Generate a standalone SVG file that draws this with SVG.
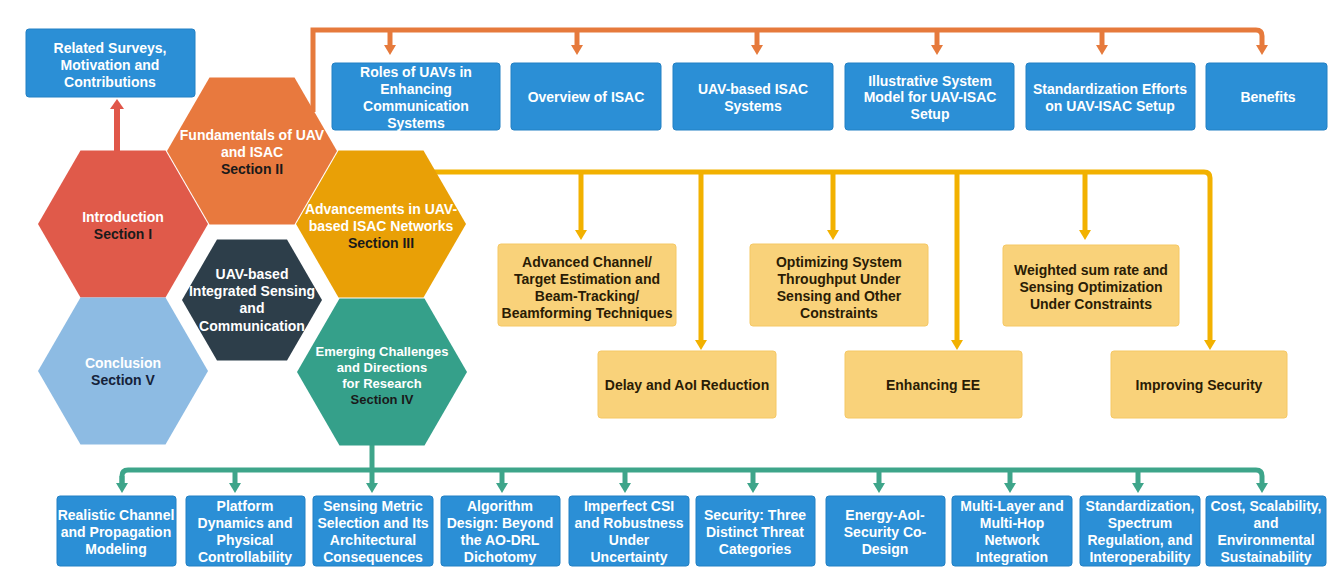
<svg xmlns="http://www.w3.org/2000/svg" width="1330" height="580" viewBox="0 0 1330 580">
<defs>
<style>
text{font-family:"Liberation Sans",Arial,sans-serif;font-weight:bold;font-size:14px;text-anchor:middle}
.wt{fill:#ffffff}
.dk{fill:#1a1a1a}
.yt{fill:#2a1c05}
.blue{fill:#2b8fd6;stroke:#2380c4;stroke-width:1}
.ybox{fill:#f9d27a;stroke:#f5c865;stroke-width:1}
.or{fill:none;stroke:#e67a3c;stroke-width:5}
.rd{fill:none;stroke:#e0574a;stroke-width:6}
.ye{fill:none;stroke:#f2b100;stroke-width:5}
.gr{fill:none;stroke:#3ea58a;stroke-width:5}
</style>
<marker id="aor" viewBox="0 0 10 12" markerWidth="10" markerHeight="12" refX="4" refY="6" orient="auto" markerUnits="userSpaceOnUse"><path d="M0,0 L10,6 L0,12 z" fill="#e67a3c"/></marker>
<marker id="ard" viewBox="0 0 10 14" markerWidth="10" markerHeight="14" refX="4" refY="7" orient="auto" markerUnits="userSpaceOnUse"><path d="M0,0 L10,7 L0,14 z" fill="#e0574a"/></marker>
<marker id="aye" viewBox="0 0 10 12" markerWidth="10" markerHeight="12" refX="4" refY="6" orient="auto" markerUnits="userSpaceOnUse"><path d="M0,0 L10,6 L0,12 z" fill="#f2b100"/></marker>
<marker id="agr" viewBox="0 0 10 12" markerWidth="10" markerHeight="12" refX="4" refY="6" orient="auto" markerUnits="userSpaceOnUse"><path d="M0,0 L10,6 L0,12 z" fill="#3ea58a"/></marker>
</defs>
<rect width="1330" height="580" fill="#ffffff"/>

<g id="connectors">
<path class="rd" d="M117,152 V105" marker-end="url(#ard)"/>
<path class="or" d="M313,112 V30 H1256 Q1262,30 1262,36 V49" marker-end="url(#aor)"/>
<path class="or" d="M390,30 V49" marker-end="url(#aor)"/>
<path class="or" d="M577,30 V49" marker-end="url(#aor)"/>
<path class="or" d="M757,30 V49" marker-end="url(#aor)"/>
<path class="or" d="M937,30 V49" marker-end="url(#aor)"/>
<path class="or" d="M1102,30 V49" marker-end="url(#aor)"/>
<path class="ye" d="M420,172 H1204 Q1210,172 1210,178 V344" marker-end="url(#aye)"/>
<path class="ye" d="M581,172 V234" marker-end="url(#aye)"/>
<path class="ye" d="M701,172 V344" marker-end="url(#aye)"/>
<path class="ye" d="M833,172 V234" marker-end="url(#aye)"/>
<path class="ye" d="M957,172 V344" marker-end="url(#aye)"/>
<path class="ye" d="M1085,172 V234" marker-end="url(#aye)"/>
<path class="gr" d="M122,487 V476 Q122,470 128,470 H1256 Q1262,470 1262,476 V487" marker-end="url(#agr)"/>
<path class="gr" d="M122,476 V487" marker-end="url(#agr)"/>
<path class="gr" d="M372,440 V487" marker-end="url(#agr)"/>
<path class="gr" d="M235,470 V487" marker-end="url(#agr)"/>
<path class="gr" d="M502,470 V487" marker-end="url(#agr)"/>
<path class="gr" d="M625,470 V487" marker-end="url(#agr)"/>
<path class="gr" d="M753,470 V487" marker-end="url(#agr)"/>
<path class="gr" d="M879,470 V487" marker-end="url(#agr)"/>
<path class="gr" d="M1010,470 V487" marker-end="url(#agr)"/>
<path class="gr" d="M1138,470 V487" marker-end="url(#agr)"/>
</g>

<g id="hex-introduction">
<polygon points="38,224 80.5,150.4 165.5,150.4 208,224 165.5,297.6 80.5,297.6" fill="#e05a4a"/>
<text class="wt" x="123" y="222">Introduction</text>
<text class="dk" x="123" y="239">Section I</text>
</g>
<g id="hex-fundamentals">
<polygon points="167,151 209.5,77.4 294.5,77.4 337,151 294.5,224.6 209.5,224.6" fill="#e8793e"/>
<text class="wt" x="252" y="140">Fundamentals of UAV</text>
<text class="wt" x="252" y="157">and ISAC</text>
<text class="dk" x="252" y="174">Section II</text>
</g>
<g id="hex-advancements">
<polygon points="296,224 338.5,150.4 423.5,150.4 466,224 423.5,297.6 338.5,297.6" fill="#e9a006"/>
<text class="wt" x="381" y="214">Advancements in UAV-</text>
<text class="wt" x="381" y="231">based ISAC Networks</text>
<text class="dk" x="381" y="248">Section III</text>
</g>
<g id="hex-conclusion">
<polygon points="38,371 80.5,297.4 165.5,297.4 208,371 165.5,444.6 80.5,444.6" fill="#8dbbe3"/>
<text class="wt" x="123" y="368">Conclusion</text>
<text fill="#15223a" x="123" y="385">Section V</text>
</g>
<g id="hex-emerging">
<polygon points="297,372 339.5,298.4 424.5,298.4 467,372 424.5,445.6 339.5,445.6" fill="#35a08a"/>
<text class="wt" x="382" y="356" style="font-size:13px">Emerging Challenges</text>
<text class="wt" x="382" y="372" style="font-size:13px">and Directions</text>
<text class="wt" x="382" y="388" style="font-size:13px">for Research</text>
<text class="dk" x="382" y="404" style="font-size:13px">Section IV</text>
</g>
<g id="hex-center">
<polygon points="182,300 217,239.4 287,239.4 322,300 287,360.6 217,360.6" fill="#2d3e4a"/>
<text class="wt" x="252" y="279">UAV-based</text>
<text class="wt" x="252" y="296">Integrated Sensing</text>
<text class="wt" x="252" y="313">and</text>
<text class="wt" x="252" y="331">Communication</text>
</g>

<g id="box-related">
<rect class="blue" x="26" y="29" width="169" height="68" rx="3"/>
<text class="wt" x="110" y="53">Related Surveys,</text>
<text class="wt" x="110" y="70">Motivation and</text>
<text class="wt" x="110" y="87">Contributions</text>
</g>

<g id="box-roles">
<rect class="blue" x="332" y="63" width="168" height="67" rx="3"/>
<text class="wt" x="416" y="77">Roles of UAVs in</text>
<text class="wt" x="416" y="94">Enhancing</text>
<text class="wt" x="416" y="111">Communication</text>
<text class="wt" x="416" y="128">Systems</text>
</g>
<g id="box-overview">
<rect class="blue" x="511" y="63" width="150" height="67" rx="3"/>
<text class="wt" x="586" y="102">Overview of ISAC</text>
</g>
<g id="box-uavisac">
<rect class="blue" x="673" y="63" width="160" height="67" rx="3"/>
<text class="wt" x="753" y="94">UAV-based ISAC</text>
<text class="wt" x="753" y="111">Systems</text>
</g>
<g id="box-illustrative">
<rect class="blue" x="845" y="63" width="169" height="67" rx="3"/>
<text class="wt" x="930" y="86">Illustrative System</text>
<text class="wt" x="930" y="102">Model for UAV-ISAC</text>
<text class="wt" x="930" y="119">Setup</text>
</g>
<g id="box-standardization">
<rect class="blue" x="1026" y="63" width="169" height="67" rx="3"/>
<text class="wt" x="1110" y="94">Standardization Efforts</text>
<text class="wt" x="1110" y="111">on UAV-ISAC Setup</text>
</g>
<g id="box-benefits">
<rect class="blue" x="1206" y="63" width="121" height="67" rx="3"/>
<text class="wt" x="1268" y="102">Benefits</text>
</g>

<g id="box-advanced">
<rect class="ybox" x="498" y="244" width="178" height="82" rx="3"/>
<text class="yt" x="587" y="267">Advanced Channel/</text>
<text class="yt" x="587" y="284">Target Estimation and</text>
<text class="yt" x="587" y="301">Beam-Tracking/</text>
<text class="yt" x="587" y="318">Beamforming Techniques</text>
</g>
<g id="box-optimizing">
<rect class="ybox" x="750" y="244" width="178" height="82" rx="3"/>
<text class="yt" x="839" y="267">Optimizing System</text>
<text class="yt" x="839" y="284">Throughput Under</text>
<text class="yt" x="839" y="301">Sensing and Other</text>
<text class="yt" x="839" y="318">Constraints</text>
</g>
<g id="box-weighted">
<rect class="ybox" x="1003" y="245" width="176" height="81" rx="3"/>
<text class="yt" x="1091" y="275">Weighted sum rate and</text>
<text class="yt" x="1091" y="292">Sensing Optimization</text>
<text class="yt" x="1091" y="309">Under Constraints</text>
</g>
<g id="box-delay">
<rect class="ybox" x="598" y="351" width="178" height="67" rx="3"/>
<text class="yt" x="687" y="390">Delay and AoI Reduction</text>
</g>
<g id="box-ee">
<rect class="ybox" x="845" y="351" width="177" height="67" rx="3"/>
<text class="yt" x="933" y="390">Enhancing EE</text>
</g>
<g id="box-security">
<rect class="ybox" x="1111" y="351" width="176" height="67" rx="3"/>
<text class="yt" x="1199" y="390">Improving Security</text>
</g>

<g id="box-b1">
<rect class="blue" x="57" y="496" width="119" height="70" rx="3"/>
<text class="wt" x="116" y="520">Realistic Channel</text>
<text class="wt" x="116" y="537">and Propagation</text>
<text class="wt" x="116" y="554">Modeling</text>
</g>
<g id="box-b2">
<rect class="blue" x="186" y="496" width="119" height="70" rx="3"/>
<text class="wt" x="245" y="511">Platform</text>
<text class="wt" x="245" y="528">Dynamics and</text>
<text class="wt" x="245" y="545">Physical</text>
<text class="wt" x="245" y="562">Controllability</text>
</g>
<g id="box-b3">
<rect class="blue" x="313" y="496" width="120" height="70" rx="3"/>
<text class="wt" x="373" y="511">Sensing Metric</text>
<text class="wt" x="373" y="528">Selection and Its</text>
<text class="wt" x="373" y="545">Architectural</text>
<text class="wt" x="373" y="562">Consequences</text>
</g>
<g id="box-b4">
<rect class="blue" x="441" y="496" width="119" height="70" rx="3"/>
<text class="wt" x="500" y="511">Algorithm</text>
<text class="wt" x="500" y="528">Design: Beyond</text>
<text class="wt" x="500" y="545">the AO-DRL</text>
<text class="wt" x="500" y="562">Dichotomy</text>
</g>
<g id="box-b5">
<rect class="blue" x="569" y="496" width="120" height="70" rx="3"/>
<text class="wt" x="629" y="511">Imperfect CSI</text>
<text class="wt" x="629" y="528">and Robustness</text>
<text class="wt" x="629" y="545">Under</text>
<text class="wt" x="629" y="562">Uncertainty</text>
</g>
<g id="box-b6">
<rect class="blue" x="696" y="496" width="119" height="70" rx="3"/>
<text class="wt" x="755" y="520">Security: Three</text>
<text class="wt" x="755" y="537">Distinct Threat</text>
<text class="wt" x="755" y="554">Categories</text>
</g>
<g id="box-b7">
<rect class="blue" x="826" y="496" width="119" height="70" rx="3"/>
<text class="wt" x="885" y="520">Energy-AoI-</text>
<text class="wt" x="885" y="537">Security Co-</text>
<text class="wt" x="885" y="554">Design</text>
</g>
<g id="box-b8">
<rect class="blue" x="952" y="496" width="120" height="70" rx="3"/>
<text class="wt" x="1012" y="511">Multi-Layer and</text>
<text class="wt" x="1012" y="528">Multi-Hop</text>
<text class="wt" x="1012" y="545">Network</text>
<text class="wt" x="1012" y="562">Integration</text>
</g>
<g id="box-b9">
<rect class="blue" x="1080" y="496" width="120" height="70" rx="3"/>
<text class="wt" x="1140" y="511">Standardization,</text>
<text class="wt" x="1140" y="528">Spectrum</text>
<text class="wt" x="1140" y="545">Regulation, and</text>
<text class="wt" x="1140" y="562">Interoperability</text>
</g>
<g id="box-b10">
<rect class="blue" x="1206" y="496" width="120" height="70" rx="3"/>
<text class="wt" x="1266" y="511">Cost, Scalability,</text>
<text class="wt" x="1266" y="528">and</text>
<text class="wt" x="1266" y="545">Environmental</text>
<text class="wt" x="1266" y="562">Sustainability</text>
</g>
</svg>
